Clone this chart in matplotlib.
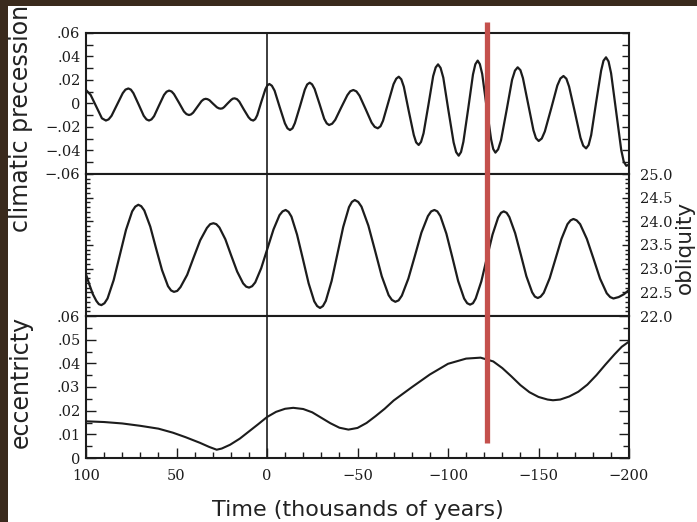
import matplotlib
matplotlib.use('Agg')
import matplotlib.pyplot as plt
from matplotlib.ticker import MultipleLocator, FuncFormatter
from matplotlib.transforms import blended_transform_factory
from matplotlib.patches import Rectangle

# climatic precession (time in kyr, 100 -> -200)
prec_time = [100, 97.4, 93.9, 91.2, 89.0,
             87.5, 85.9, 82.8, 79.7, 78.2, 76.6,
             75.2, 73.8, 70.9, 68.1, 66.6, 65.2,
             63.8, 62.4, 59.7, 56.9, 55.5, 54.1,
             52.7, 51.4, 48.6, 45.9, 44.5, 43.1,
             42.0, 40.8, 38.5, 36.2, 35.0, 33.9,
             32.9, 31.8, 29.8, 27.7, 26.6, 25.6,
             24.6, 23.7, 21.8, 19.8, 18.9, 17.9,
             16.6, 15.3, 12.8, 10.2, 8.9, 7.6,
             6.5, 5.4, 3.2, 0.9, -0.2, -1.3,
             -2.7, -4.2, -7.0, -9.9, -11.3, -12.7,
             -14.1, -15.4, -18.2, -20.9, -22.2, -23.6,
             -24.9, -26.3, -29.0, -31.6, -33.0, -34.3,
             -36.0, -37.7, -41.0, -44.4, -46.0, -47.7,
             -49.4, -51.1, -54.5, -57.8, -59.5, -61.2,
             -62.7, -64.1, -67.0, -69.9, -71.4, -72.8,
             -74.2, -75.6, -78.3, -81.1, -82.4, -83.8,
             -85.1, -86.5, -89.2, -91.8, -93.2, -94.5,
             -95.9, -97.4, -100.2, -103.1, -104.5, -105.9,
             -107.2, -108.5, -111.2, -113.8, -115.1, -116.4,
             -117.6, -118.9, -121.3, -123.8, -125.0, -126.2,
             -127.7, -129.3, -132.4, -135.4, -137.0, -138.5,
             -140.0, -141.4, -144.3, -147.2, -148.6, -150.1,
             -151.8, -153.5, -157.0, -160.4, -162.1, -163.8,
             -165.4, -166.9, -170.1, -173.2, -174.7, -176.3,
             -177.7, -179.1, -181.8, -184.6, -185.9, -187.3,
             -188.7, -190.1, -192.9, -195.7, -197.1, -198.5,
             -200]
prec_value = [0.0115, 0.0072, -0.0041, -0.0126, -0.0145,
              -0.0135, -0.0105, -0.0009, 0.0088, 0.0118, 0.0128,
              0.0118, 0.0088, -0.0009, -0.0105, -0.0135, -0.0145,
              -0.0135, -0.0108, -0.0018, 0.0073, 0.0100, 0.0110,
              0.0102, 0.0080, 0.0006, -0.0068, -0.0090, -0.0098,
              -0.0093, -0.0078, -0.0029, 0.0020, 0.0035, 0.0040,
              0.0037, 0.0028, -0.0002, -0.0032, -0.0041, -0.0044,
              -0.0041, -0.0031, 0.0000, 0.0031, 0.0041, 0.0044,
              0.0037, 0.0016, -0.0051, -0.0117, -0.0138, -0.0145,
              -0.0133, -0.0100, 0.0011, 0.0121, 0.0154, 0.0166,
              0.0151, 0.0109, -0.0030, -0.0169, -0.0211, -0.0226,
              -0.0211, -0.0167, -0.0025, 0.0118, 0.0162, 0.0177,
              0.0163, 0.0124, -0.0003, -0.0130, -0.0169, -0.0183,
              -0.0172, -0.0139, -0.0034, 0.0071, 0.0104, 0.0115,
              0.0103, 0.0067, -0.0048, -0.0163, -0.0199, -0.0211,
              -0.0194, -0.0147, 0.0009, 0.0164, 0.0211, 0.0228,
              0.0206, 0.0143, -0.0063, -0.0268, -0.0331, -0.0353,
              -0.0327, -0.0253, -0.0010, 0.0233, 0.0307, 0.0333,
              0.0303, 0.0220, -0.0056, -0.0331, -0.0414, -0.0444,
              -0.0413, -0.0326, -0.0040, 0.0247, 0.0334, 0.0365,
              0.0335, 0.0251, -0.0027, -0.0304, -0.0388, -0.0418,
              -0.0390, -0.0312, -0.0055, 0.0202, 0.0280, 0.0308,
              0.0284, 0.0216, -0.0006, -0.0227, -0.0295, -0.0319,
              -0.0298, -0.0238, -0.0043, 0.0153, 0.0213, 0.0234,
              0.0211, 0.0144, -0.0074, -0.0292, -0.0359, -0.0382,
              -0.0353, -0.0269, 0.0006, 0.0280, 0.0364, 0.0393,
              0.0358, 0.0258, -0.0069, -0.0395, -0.0495, -0.0530,
              -0.0520]

# obliquity (degrees), middle panel
obl_time = [100, 98.1, 96.2, 94.3, 92.9, 91.5,
            89.8, 88.1, 84.7, 81.3, 77.9, 74.5, 72.8, 71.1,
            69.5, 67.8, 64.5, 61.3, 58.0, 54.7, 53.0, 51.4,
            49.6, 47.8, 44.1, 40.5, 36.9, 33.2, 31.4, 29.6,
            28.0, 26.3, 23.0, 19.8, 16.5, 13.2, 11.5, 9.9,
            8.2, 6.5, 3.2, -0.2, -3.6, -6.9, -8.6, -10.3,
            -11.9, -13.5, -16.6, -19.8, -23.0, -26.1, -27.7, -29.3,
            -30.9, -32.5, -35.7, -38.9, -42.1, -45.3, -46.9, -48.5,
            -50.4, -52.2, -56.0, -59.7, -63.4, -67.2, -69.0, -70.9,
            -72.7, -74.5, -78.1, -81.7, -85.3, -88.9, -90.7, -92.5,
            -94.1, -95.8, -99.1, -102.4, -105.6, -108.9, -110.6, -112.2,
            -113.8, -115.3, -118.4, -121.5, -124.6, -127.7, -129.3, -130.8,
            -132.4, -133.9, -137.1, -140.2, -143.3, -146.5, -148.0, -149.6,
            -151.2, -152.9, -156.2, -159.5, -162.7, -166.0, -167.7, -169.3,
            -171.1, -173.0, -176.7, -180.4, -184.0, -187.7, -189.6, -191.4,
            -194.3, -197.2, -200]
obl_value = [22.88, 22.66, 22.46, 22.32, 22.25, 22.23,
             22.27, 22.37, 22.76, 23.29, 23.82, 24.21, 24.31, 24.35,
             24.32, 24.23, 23.89, 23.43, 22.97, 22.63, 22.54, 22.51,
             22.53, 22.61, 22.87, 23.24, 23.60, 23.86, 23.94, 23.96,
             23.94, 23.87, 23.62, 23.28, 22.94, 22.69, 22.62, 22.60,
             22.63, 22.71, 23.01, 23.42, 23.83, 24.13, 24.21, 24.24,
             24.20, 24.10, 23.72, 23.21, 22.69, 22.31, 22.21, 22.17,
             22.21, 22.32, 22.74, 23.31, 23.88, 24.30, 24.41, 24.45,
             24.41, 24.31, 23.91, 23.38, 22.84, 22.44, 22.34, 22.30,
             22.33, 22.43, 22.79, 23.27, 23.76, 24.11, 24.21, 24.24,
             24.21, 24.11, 23.74, 23.24, 22.74, 22.37, 22.27, 22.24,
             22.27, 22.37, 22.73, 23.23, 23.72, 24.08, 24.18, 24.21,
             24.18, 24.09, 23.75, 23.30, 22.84, 22.50, 22.41, 22.38,
             22.41, 22.49, 22.80, 23.22, 23.63, 23.94, 24.02, 24.05,
             24.02, 23.94, 23.63, 23.21, 22.79, 22.48, 22.40, 22.37,
             22.40, 22.46, 22.55]

# eccentricity, bottom panel
ecc_time = [100, 90, 80, 70, 60, 52, 45, 37, 32, 27.8, 25, 20.4, 15, 10, 5, 0, -5, -10, -14.5,
            -20, -25, -30, -35, -40, -45, -50, -55, -60, -65, -70, -80, -90, -100, -110, -118,
            -125, -130, -135, -140, -145, -150, -155, -158, -162, -167, -172, -177, -182, -187,
            -192, -196, -200]
ecc_value = [0.0155, 0.0152, 0.0146, 0.0136, 0.0124, 0.0107, 0.0088, 0.0064, 0.0047, 0.0035,
             0.0040, 0.0056, 0.0082, 0.0112, 0.0142, 0.0173, 0.0195, 0.0208, 0.0212, 0.0207,
             0.0193, 0.0170, 0.0147, 0.0128, 0.0120, 0.0127, 0.0148, 0.0177, 0.0208, 0.0243,
             0.0299, 0.0353, 0.0398, 0.0420, 0.0424, 0.0408, 0.0380, 0.0345, 0.0308, 0.0278,
             0.0258, 0.0247, 0.0244, 0.0247, 0.0260, 0.0280, 0.0310, 0.0350, 0.0395, 0.0438,
             0.0470, 0.0492]

red_marker_time = -121.5
time_ticks = [100, 50, 0, -50, -100, -150, -200]
prec_ticks = [-0.06, -0.04, -0.02, 0, 0.02, 0.04, 0.06]
obl_ticks = [22.0, 22.5, 23.0, 23.5, 24.0, 24.5, 25.0]
ecc_ticks = [0, 0.01, 0.02, 0.03, 0.04, 0.05, 0.06]

assert len(prec_time) == len(prec_value)
assert len(obl_time) == len(obl_value)
assert len(ecc_time) == len(ecc_value)

ink = '#1c1c1c'
plt.rcParams['font.family'] = 'DejaVu Sans'
plt.rcParams['axes.linewidth'] = 1.5
plt.rcParams['axes.edgecolor'] = ink


def decimal_label(v, pos=None):
    if abs(v) < 1e-9:
        return '0'
    s = ('%.2f' % abs(v)).lstrip('0')
    return ('\u2212' if v < 0 else '') + s


def time_label(v, pos=None):
    return ('\u2212' if v < 0 else '') + '%d' % abs(v)


fig = plt.figure(figsize=(6.97, 5.22), dpi=100, facecolor='#3a2a1d')
fig.add_artist(Rectangle((8 / 697, 0), 1, 1 - 6 / 522, transform=fig.transFigure,
                         facecolor='white', edgecolor='none', zorder=-5))

left, width = 86 / 697, 543 / 697
ax1 = fig.add_axes([left, 1 - 174 / 522, width, 141 / 522])
ax2 = fig.add_axes([left, 1 - 316 / 522, width, 142 / 522])
ax3 = fig.add_axes([left, 1 - 458 / 522, width, 142 / 522])

for ax in (ax1, ax2, ax3):
    ax.set_xlim(100, -200)
    ax.axvline(0, color=ink, lw=1.2, zorder=1)
    ax.tick_params(axis='x', which='both', direction='in', bottom=False, top=False,
                   labelbottom=False)
    ax.tick_params(axis='y', which='both', direction='in', left=True, right=True,
                   colors=ink, width=1)

# top panel: climatic precession
ax1.plot(prec_time, prec_value, color=ink, lw=1.6, solid_joinstyle='round')
ax1.set_ylim(-0.06, 0.06)
ax1.set_yticks(prec_ticks)
ax1.yaxis.set_major_formatter(FuncFormatter(decimal_label))
ax1.yaxis.set_minor_locator(MultipleLocator(0.01))
ax1.tick_params(axis='y', which='both', length=5, pad=4, labelsize=10.5)

# middle panel: obliquity
ax2.plot(obl_time, obl_value, color=ink, lw=1.6, solid_joinstyle='round')
ax2.set_ylim(22.0, 25.0)
ax2.set_yticks(obl_ticks)
ax2.set_yticklabels(['%.1f' % v for v in obl_ticks])
ax2.yaxis.set_minor_locator(MultipleLocator(0.1))
ax2.tick_params(axis='y', which='major', length=5, pad=8, labelsize=10.5,
                labelleft=False, labelright=True)
ax2.tick_params(axis='y', which='minor', length=3)

# bottom panel: eccentricity
ax3.plot(ecc_time, ecc_value, color=ink, lw=1.5, solid_joinstyle='round')
ax3.set_ylim(0, 0.06)
ax3.set_yticks(ecc_ticks)
ax3.yaxis.set_major_formatter(FuncFormatter(decimal_label))
ax3.yaxis.set_minor_locator(MultipleLocator(0.005))
ax3.tick_params(axis='y', which='major', length=7, pad=4, labelsize=10.5)
ax3.tick_params(axis='y', which='minor', length=4)
ax3.set_xticks(time_ticks)
ax3.xaxis.set_major_formatter(FuncFormatter(time_label))
ax3.xaxis.set_minor_locator(MultipleLocator(10))
ax3.tick_params(axis='x', which='both', bottom=True, labelbottom=True, colors=ink, width=1)
ax3.tick_params(axis='x', which='major', length=7, pad=8, labelsize=10.5)
ax3.tick_params(axis='x', which='minor', length=4)

for ax in (ax1, ax2, ax3):
    for lab in ax.get_yticklabels() + ax.get_xticklabels():
        lab.set_fontfamily('DejaVu Serif')

# red marker line across all three panels
trans = blended_transform_factory(ax3.transData, ax3.transAxes)
ax3.plot([red_marker_time, red_marker_time], [0.106, 3.07], transform=trans, clip_on=False,
         color='#c4504c', lw=3.8, solid_capstyle='butt', zorder=10)

fig.text(21 / 697, 1 - 118 / 522, 'climatic precession', rotation=90, ha='center',
         va='center', fontsize=17, color='#222222')
fig.text(21 / 697, 1 - 382 / 522, 'eccentricty', rotation=90, ha='center', va='center',
         fontsize=17, color='#222222')
fig.text(684.5 / 697, 1 - 247 / 522, 'obliquity', rotation=90, ha='center', va='center',
         fontsize=15.5, color='#222222')
fig.text(357.5 / 697, 1 - 510 / 522, 'Time (thousands of years)', ha='center', va='center',
         fontsize=16, color='#222222')

fig.savefig('out.png', dpi=100, facecolor=fig.get_facecolor())
